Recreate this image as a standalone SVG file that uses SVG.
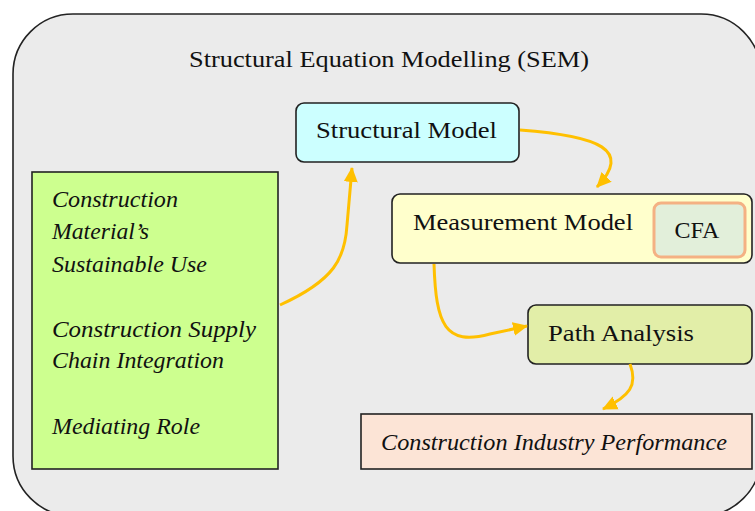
<svg xmlns="http://www.w3.org/2000/svg" width="755" height="511" viewBox="0 0 755 511">
<defs>
<style>
.box{stroke:#222;stroke-width:1.6}
.t{font-family:"Liberation Serif","Times New Roman",serif;font-size:24px;fill:#111}
.i{font-family:"Liberation Serif","Times New Roman",serif;font-size:24px;font-style:italic;fill:#111}
.c{fill:none;stroke:#FFC000;stroke-width:3}
</style>
<marker id="ah" markerUnits="userSpaceOnUse" markerWidth="16" markerHeight="16" viewBox="0 0 16 16" refX="14" refY="8" orient="auto">
<path d="M0,1 L15,8 L0,15 Z" fill="#FFC000"/>
</marker>
</defs>
<rect width="755" height="511" fill="#fff"/>
<g id="sem">
<rect x="13" y="14" width="748" height="502" rx="60" ry="60" fill="#EBEBEB" stroke="#222" stroke-width="1.6"/>
<text class="t" x="189" y="67" textLength="400" lengthAdjust="spacingAndGlyphs">Structural Equation Modelling (SEM)</text>
</g>
<g id="structural">
<rect class="box" x="296" y="103" width="223" height="59" rx="8" fill="#CCFFFF"/>
<text class="t" x="316" y="138" textLength="181" lengthAdjust="spacingAndGlyphs">Structural Model</text>
</g>
<g id="measurement">
<rect class="box" x="392" y="194" width="360" height="69" rx="8" fill="#FFFFCC"/>
<text class="t" x="413" y="230" textLength="220" lengthAdjust="spacingAndGlyphs">Measurement Model</text>
</g>
<g id="cfa">
<rect x="654" y="203" width="91" height="54" rx="7" fill="#E2EFDA" stroke="#F4B183" stroke-width="3"/>
<text class="t" x="697" y="238" text-anchor="middle">CFA</text>
</g>
<g id="path">
<rect class="box" x="528" y="305" width="224" height="59" rx="8" fill="#E2EEA8"/>
<text class="t" x="548" y="341" textLength="146" lengthAdjust="spacingAndGlyphs">Path Analysis</text>
</g>
<g id="performance">
<rect class="box" x="361" y="414" width="391" height="55" fill="#FCE4D6"/>
<text class="i" x="381" y="450" textLength="346" lengthAdjust="spacingAndGlyphs">Construction Industry Performance</text>
</g>
<g id="constructs">
<rect class="box" x="32" y="172" width="246" height="297" fill="#CDFF8F"/>
<text class="i" x="52" y="207" textLength="126" lengthAdjust="spacingAndGlyphs">Construction</text>
<text class="i" x="52" y="239" textLength="97" lengthAdjust="spacingAndGlyphs">Material’s</text>
<text class="i" x="52" y="272" textLength="155" lengthAdjust="spacingAndGlyphs">Sustainable Use</text>
<text class="i" x="52" y="337" textLength="204" lengthAdjust="spacingAndGlyphs">Construction Supply</text>
<text class="i" x="52" y="368" textLength="172" lengthAdjust="spacingAndGlyphs">Chain Integration</text>
<text class="i" x="52" y="434" textLength="148" lengthAdjust="spacingAndGlyphs">Mediating Role</text>
</g>
<g id="connectors">
<path class="c" marker-end="url(#ah)" d="M280,305 C335,280 345,258 347,225 L352,168"/>
<path class="c" marker-end="url(#ah)" d="M520,130 C600,136 632,150 597,187"/>
<path class="c" marker-end="url(#ah)" d="M434,264 C436,325 445,346 490,334 L527,326"/>
<path class="c" marker-end="url(#ah)" d="M630,364 C638,385 630,396 603,409"/>
</g>
</svg>
